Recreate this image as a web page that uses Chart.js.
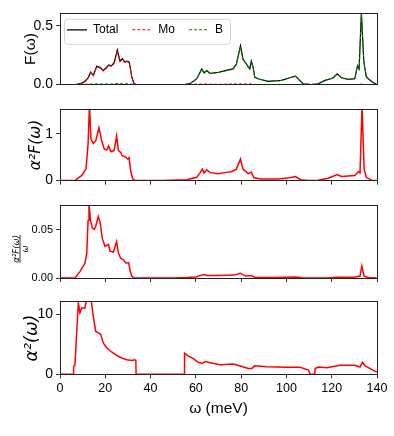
<!DOCTYPE html>
<html>
<head>
<meta charset="utf-8">
<script src="https://cdn.jsdelivr.net/npm/chart.js@4.4.1/dist/chart.umd.min.js"></script>
<style>
  body { margin: 0; background: #fff; }
  #wrap { position: relative; width: 394px; height: 436px; }
  canvas { position: absolute; left: 0; }
</style>
</head>
<body>
<div id="wrap">
  <canvas id="pF" width="394" height="96" style="top:0px"></canvas>
  <canvas id="pA" width="394" height="96" style="top:96px"></canvas>
  <canvas id="pB" width="394" height="96" style="top:192px"></canvas>
  <canvas id="pL" width="394" height="148" style="top:288px"></canvas>
</div>
<script>
// shared x ticks (meV)
const xTicks = [0, 20, 40, 60, 80, 100, 120, 140];

// phonon DOS: total and projections
const omegaF = [0, 7, 8, 10, 11.5, 12.5, 13.5, 14.7, 16.2, 17.7, 19.1, 20.6, 21.6, 22.8, 24, 25.3, 26.5, 27.5, 28.7, 29.5,
  30.5, 31, 31.7, 32.7, 33.6, 40, 50, 55, 57.4, 60.4, 62.6, 63.6, 64.8, 66.3, 70, 74.2, 76.4, 77.9, 79.7, 80.8,
  82.3, 83.8, 84.5, 85.3, 86, 87.5, 91.9, 97.8, 101.5, 104, 105.4, 107.4, 111, 114, 117, 120.6, 122.4, 124.3, 127.2, 130.2,
  131.4, 132.1, 133.1, 134.2, 135.3, 137.5, 139.8];
const totalF = [0, 0, 0.004, 0.015, 0.036, 0.06, 0.105, 0.078, 0.156, 0.147, 0.12, 0.147, 0.167, 0.16, 0.19, 0.294, 0.2, 0.22, 0.19, 0.2,
  0.195, 0.147, 0.064, 0.008, 0, 0, 0, 0, 0.008, 0.05, 0.133, 0.1, 0.12, 0.095, 0.105, 0.125, 0.133, 0.175, 0.33, 0.217,
  0.175, 0.133, 0.2, 0.147, 0.064, 0.05, 0.028, 0.036, 0.058, 0.072, 0.044, 0.006, 0, 0.006, 0.036, 0.056, 0.092, 0.058, 0.044, 0.05,
  0.161, 0.133, 0.61, 0.19, 0.064, 0.028, 0];
const moF = [0, 0, 0.004, 0.014, 0.034, 0.057, 0.1, 0.075, 0.15, 0.142, 0.116, 0.142, 0.161, 0.155, 0.184, 0.285, 0.194, 0.213, 0.184, 0.194,
  0.189, 0.142, 0.062, 0.007, 0, 0, 0, 0, 0.001, 0.002, 0.004, 0.003, 0.004, 0.003, 0.003, 0.004, 0.004, 0.005, 0.006, 0.005,
  0.004, 0.004, 0.004, 0.003, 0.002, 0.001, 0, 0, 0, 0, 0, 0, 0, 0, 0, 0, 0, 0, 0, 0,
  0.001, 0.001, 0.004, 0.001, 0, 0, 0];
const bF = [0, 0, 0, 0.001, 0.002, 0.003, 0.005, 0.003, 0.006, 0.005, 0.004, 0.005, 0.006, 0.005, 0.006, 0.009, 0.006, 0.007, 0.006, 0.006,
  0.006, 0.005, 0.002, 0.001, 0, 0, 0, 0, 0.007, 0.048, 0.129, 0.097, 0.116, 0.092, 0.102, 0.121, 0.129, 0.17, 0.324, 0.212,
  0.171, 0.129, 0.196, 0.144, 0.062, 0.049, 0.028, 0.036, 0.058, 0.072, 0.044, 0.006, 0, 0.006, 0.036, 0.056, 0.092, 0.058, 0.044, 0.05,
  0.16, 0.132, 0.596, 0.189, 0.064, 0.028, 0];

// Eliashberg function
const omegaA = [0, 6.6, 9.6, 11.5, 12.4, 13, 13.7, 14.7, 15.8, 17.2, 18.4, 19.6, 20.6, 21.5, 22.4, 23.9, 25, 25.8, 26.8, 27.5,
  28.7, 29.9, 30.5, 31.2, 32.1, 33.1, 45, 56, 60.4, 61.9, 62.9, 63.6, 64.8, 66.3, 69.8, 72.7, 75.7, 77.9, 79.7, 80.8,
  83.1, 84.5, 85.6, 88.9, 96.3, 101.5, 104, 106.3, 109.6, 114, 118.4, 122.4, 124.3, 130.2, 131.7, 132.5, 133.4, 134.3, 135.3, 137.5,
  139.8];
const a2F = [0, 0, 0.11, 0.25, 0.78, 1.6, 0.88, 0.79, 0.85, 1.13, 0.85, 0.67, 0.65, 0.74, 0.62, 0.64, 0.95, 0.64, 0.6, 0.53,
  0.51, 0.46, 0.49, 0.21, 0.04, 0, 0, 0.02, 0.07, 0.17, 0.245, 0.16, 0.23, 0.17, 0.147, 0.17, 0.19, 0.245, 0.46, 0.245,
  0.15, 0.18, 0.06, 0.034, 0.034, 0.06, 0.085, 0.02, 0, 0.007, 0.05, 0.13, 0.09, 0.11, 0.19, 0.16, 1.6, 0.25, 0.07, 0.01,
  0];

// a2F(w)/w
const omegaB = [0, 6.6, 8.8, 11, 11.8, 12.4, 12.8, 13.5, 14.3, 15.2, 15.9, 16.9, 17.7, 18.7, 19.9, 21.4, 22.1, 23.6, 25, 25.8,
  26.8, 28, 29.2, 30.3, 30.9, 31.7, 32.7, 50, 56, 60, 62.5, 63.5, 65, 70, 77, 79.5, 82, 84.5, 86, 95,
  104, 107, 110, 118, 122, 130, 132.5, 133.3, 134.3, 136, 139.8];
const a2Fw = [0, 0, 0.0066, 0.0153, 0.0257, 0.06, 0.078, 0.06, 0.052, 0.0506, 0.055, 0.064, 0.058, 0.041, 0.033, 0.035, 0.028, 0.027, 0.038, 0.026,
  0.0205, 0.019, 0.0155, 0.016, 0.0083, 0.002, 0, 0, 0.0004, 0.001, 0.003, 0.0035, 0.0027, 0.0025, 0.003, 0.005, 0.002, 0.0025, 0.0008, 0.0006,
  0.001, 0.0003, 0, 0, 0.0008, 0.0008, 0.002, 0.0125, 0.002, 0.0005, 0];

// a2(w)
const omegaL = [0, 5.9, 6.0, 6.6, 7.4, 8.1, 8.8, 9.6, 11, 11.8, 13.7, 14.7, 15.8, 16.9, 18, 19.1, 20.6, 22.8, 25, 27.2,
  29.5, 31.7, 33, 33.5, 33.6, 54.9, 55, 56.7, 58.9, 60.7, 62.6, 64.4, 66.3, 70.7, 76.6, 80.3, 83.2, 84.7, 85.9, 91.3,
  100, 106, 109.7, 110.5, 112.5, 112.7, 114.1, 117.8, 123.7, 130.3, 132.5, 133.6, 134.8, 139.2, 140];
const a2w = [0, 0, 1.3, 1.6, 7.1, 11.8, 10.2, 11, 11, 12.5, 12.5, 9.6, 7.1, 6.9, 6.6, 5.2, 4.4, 3.7, 3.15, 2.7,
  2.4, 2.3, 2.4, 2.3, 0, 0, 3.5, 3.0, 2.6, 2.05, 1.8, 2.1, 1.9, 1.6, 1.7, 1.3, 0.95, 0.95, 1.4, 1.25,
  1.15, 1.15, 0.7, 0, 0, 0.95, 1.2, 1.1, 1.5, 1.5, 1.2, 2.0, 1.4, 0.5, 0.4];

const plain = "'Liberation Sans', Arial, sans-serif";
const math = "'DejaVu Sans', sans-serif";

function xy(xs, ys) {
  return xs.map((x, i) => ({ x: x, y: ys[i] }));
}

function redLine(xs, ys) {
  return { data: xy(xs, ys), borderColor: '#ff0000', borderWidth: 1.5, pointRadius: 0 };
}

// box round every plot area
const frame = {
  id: 'frame',
  afterDraw(chart) {
    const a = chart.chartArea;
    const ctx = chart.ctx;
    const al = v => Math.round(v - 0.5) + 0.5;
    ctx.save();
    ctx.strokeStyle = '#222';
    ctx.lineWidth = 1;
    ctx.strokeRect(al(a.left), al(a.top), al(a.right) - al(a.left), al(a.bottom) - al(a.top));
    ctx.restore();
  }
};

// put the top legend inside the plot, matplotlib style
const innerLegend = {
  id: 'innerLegend',
  beforeLayout(chart) {
    const lg = chart.legend;
    const fit = Object.getPrototypeOf(lg).fit;
    lg.fit = function () {
      fit.call(this);
      this.height = 0;
    };
  },
  afterLayout(chart) {
    const lg = chart.legend;
    const a = chart.chartArea;
    lg.left = a.left - 7;
    lg.top = a.top - 3.5;
    lg.bottom = a.top + 40;
    lg.height = 43.5;
  },
  beforeDraw(chart) {
    const a = chart.chartArea;
    const ctx = chart.ctx;
    ctx.save();
    ctx.beginPath();
    ctx.roundRect(a.left + 4.5, a.top + 6, 166, 25, 3);
    ctx.fillStyle = 'rgba(255,255,255,0.8)';
    ctx.fill();
    ctx.strokeStyle = '#d6d6d6';
    ctx.lineWidth = 1;
    ctx.stroke();
    ctx.restore();
  }
};

// stacked fraction label for the third panel
const fracTitle = {
  id: 'fracTitle',
  afterDraw(chart) {
    const a = chart.chartArea;
    const ctx = chart.ctx;
    const cy = (a.top + a.bottom) / 2 + 7;
    ctx.save();
    ctx.translate(20, cy);
    ctx.rotate(-Math.PI / 2);
    ctx.fillStyle = '#000';
    ctx.textAlign = 'center';
    ctx.font = 'italic 8.5px ' + math;
    ctx.textBaseline = 'alphabetic';
    ctx.fillText('α²F(ω)', 0, -1.5);
    ctx.fillRect(-14, -0.4, 28, 0.8);
    ctx.textBaseline = 'top';
    ctx.fillText('ω', 0, 1.2);
    ctx.restore();
  }
};

function legendLabels(chart) {
  const items = Chart.defaults.plugins.legend.labels.generateLabels(chart);
  return items.map(it => {
    const ds = chart.data.datasets[it.datasetIndex];
    it.lineDash = ds.borderDash || [];
    it.strokeStyle = ds.borderColor;
    it.lineWidth = ds.borderWidth;
    return it;
  });
}

function panel(id, o) {
  return new Chart(document.getElementById(id), {
    type: 'line',
    data: { datasets: o.datasets },
    options: {
      responsive: false,
      animation: false,
      events: [],
      layout: { padding: { top: o.top, right: 17, left: 0, bottom: 0 } },
      elements: { line: { tension: 0 }, point: { radius: 0 } },
      plugins: {
        legend: o.legend || { display: false },
        tooltip: { enabled: false }
      },
      scales: {
        x: {
          type: 'linear',
          min: 0,
          max: 140,
          afterBuildTicks: s => { s.ticks = xTicks.map(v => ({ value: v })); },
          ticks: { display: !!o.xLabels, color: '#000', font: { family: plain, size: 12.5 }, padding: 3, maxRotation: 0, autoSkip: false },
          grid: { display: o.xMarks !== false, drawOnChartArea: false, tickLength: 4, color: '#333' },
          border: { display: false },
          title: o.xTitle || { display: false },
          afterFit: s => { s.height = o.xHeight; }
        },
        y: {
          min: 0,
          max: o.yMax,
          afterBuildTicks: s => { s.ticks = o.yTicks.map(v => ({ value: v })); },
          ticks: { color: '#000', font: o.yTickFont, padding: 3, callback: o.yFmt },
          grid: { drawOnChartArea: false, tickLength: 4, color: '#333' },
          border: { display: false },
          title: o.yTitle || { display: false },
          afterFit: s => { s.width = 60; }
        }
      }
    },
    plugins: [frame].concat(o.plugins || [])
  });
}

panel('pF', {
  top: 13.3,
  xHeight: 96 - 13.3 - 72.7,
  xMarks: false,
  yMax: 0.605,
  yTicks: [0, 0.5],
  yFmt: v => v.toFixed(1),
  yTickFont: { family: plain, size: 14 },
  yTitle: { display: true, text: 'F(ω)', color: '#000', font: { family: plain, size: 15.5 }, padding: { top: 21, bottom: 0 } },
  datasets: [
    { label: 'Total', data: xy(omegaF, totalF), borderColor: '#000', borderWidth: 1.2, order: 3 },
    { label: 'Mo', data: xy(omegaF, moF), borderColor: '#ff0000', borderWidth: 1.1, borderDash: [3, 2], order: 2 },
    { label: 'B', data: xy(omegaF, bF), borderColor: '#008000', borderWidth: 1.1, borderDash: [3, 2], order: 1 }
  ],
  legend: {
    display: true,
    position: 'top',
    align: 'start',
    labels: {
      usePointStyle: true,
      pointStyle: 'line',
      pointStyleWidth: 20,
      padding: 14,
      color: '#000',
      font: { family: plain, size: 12 },
      generateLabels: legendLabels,
      sort: (a, b) => a.datasetIndex - b.datasetIndex
    }
  },
  plugins: [innerLegend]
});

panel('pA', {
  top: 13.3,
  xHeight: 96 - 13.3 - 72.7,
  yMax: 1.52,
  yTicks: [0, 1],
  yFmt: v => v.toFixed(0),
  yTickFont: { family: plain, size: 14 },
  yTitle: { display: true, text: 'α²F(ω)', color: '#000', font: { family: math, size: 15.5, style: 'italic' }, padding: { top: 27, bottom: 0 } },
  datasets: [redLine(omegaA, a2F)]
});

panel('pB', {
  top: 13.7,
  xHeight: 96 - 13.7 - 72.3,
  yMax: 0.0753,
  yTicks: [0, 0.05],
  yFmt: v => v.toFixed(2),
  yTickFont: { family: plain, size: 11 },
  datasets: [redLine(omegaB, a2Fw)],
  plugins: [fracTitle]
});

panel('pL', {
  top: 13.7,
  xHeight: 148 - 13.7 - 72.6,
  xLabels: true,
  yMax: 12.04,
  yTicks: [0, 10],
  yFmt: v => v.toFixed(0),
  yTickFont: { family: plain, size: 14 },
  yTitle: { display: true, text: 'α²(ω)', color: '#000', font: { family: math, size: 17.5, style: 'italic' }, padding: { top: 22, bottom: 0 } },
  xTitle: { display: true, text: 'ω (meV)', color: '#000', font: { family: plain, size: 15.5 }, padding: { top: 0, bottom: 17.5 } },
  datasets: [redLine(omegaL, a2w)]
});
</script>
</body>
</html>
